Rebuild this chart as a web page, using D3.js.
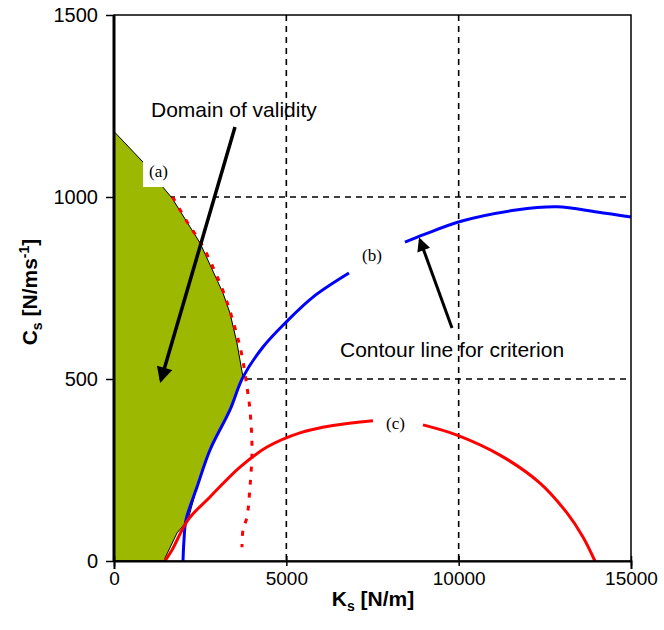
<!DOCTYPE html>
<html lang="en">
<head>
<meta charset="UTF-8">
<title>Domain of validity</title>
<script src="https://d3js.org/d3.v7.min.js"></script>
<style>
  body { margin: 0; background: #fff; }
  text { font-family: Arial, "Liberation Sans", sans-serif; }
  .serif { font-family: "Times New Roman", "Liberation Serif", serif; }
</style>
</head>
<body>
<svg width="664" height="630"></svg>
<script>
// tick values
const xTicks = [0, 5000, 10000, 15000];
const yTicks = [0, 500, 1000, 1500];

// domain of validity (green region outline), [Ks, Cs]
const domainPts = [
  [0, 0], [0, 1180], [841, 1096], [1421, 1027], [1683, 997], [2495, 874],
  [3162, 736], [3365, 681], [3568, 599], [3742, 505], [3365, 415],
  [2785, 305], [2408, 203], [2147, 113], [1828, 77], [1480, 8], [1480, 0]
];

// curve (a) - red dotted
const curveA = [
  [1700, 1000], [2100, 935], [2600, 860], [3150, 745], [3450, 660],
  [3700, 570], [3858, 478], [3945, 415], [4004, 305], [3945, 203],
  [3858, 121], [3742, 85], [3713, 38]
];

// curve (b) - blue, two pieces
const curveB1 = [
  [2002, 0], [2031, 58], [2089, 113], [2408, 203], [2785, 305],
  [3365, 415], [3742, 505], [4323, 588], [5000, 657], [5773, 725], [6818, 791]
];
const curveB2 = [
  [8442, 876], [9022, 898], [10096, 934], [11662, 964], [12852, 973],
  [14012, 959], [15000, 945]
];

// curve (c) - red, two pieces
const curveC1 = [
  [1480, 0], [1683, 30], [2147, 113], [2785, 176], [3655, 258],
  [4439, 313], [5396, 352], [6353, 372], [7514, 385]
];
const curveC2 = [
  [8964, 374], [9951, 346], [11198, 291], [12359, 214], [13142, 132],
  [13606, 66], [13954, 0]
];

const svg = d3.select("svg");
const m = { left: 114, right: 631, top: 15, bottom: 561 };

const x = d3.scaleLinear().domain([0, 15000]).range([m.left, m.right]);
const y = d3.scaleLinear().domain([0, 1500]).range([m.bottom, m.top]);

const poly = d3.line().x(d => x(d[0])).y(d => y(d[1]));
const smooth = d3.line().x(d => x(d[0])).y(d => y(d[1])).curve(d3.curveCatmullRom.alpha(0.5));

// grid
const grid = svg.append("g");
[5000, 10000].forEach(v => {
  grid.append("line")
    .attr("x1", x(v)).attr("x2", x(v)).attr("y1", m.top).attr("y2", m.bottom)
    .attr("stroke", "#000").attr("stroke-width", 1.6).attr("stroke-dasharray", "6,5");
});
[500, 1000].forEach(v => {
  grid.append("line")
    .attr("x1", m.left).attr("x2", m.right).attr("y1", y(v)).attr("y2", y(v))
    .attr("stroke", "#000").attr("stroke-width", 1.6).attr("stroke-dasharray", "6,5");
});

// green domain
svg.append("path")
  .attr("d", poly(domainPts) + "Z")
  .attr("fill", "#9cb800")
  .attr("stroke", "#000")
  .attr("stroke-width", 1);

// curves
svg.append("path").attr("d", smooth(curveA))
  .attr("fill", "none").attr("stroke", "#ff0000").attr("stroke-width", 3)
  .attr("stroke-dasharray", "5,8");
[curveB1, curveB2].forEach(c => {
  svg.append("path").attr("d", smooth(c))
    .attr("fill", "none").attr("stroke", "#0000ff").attr("stroke-width", 3);
});
[curveC1, curveC2].forEach(c => {
  svg.append("path").attr("d", smooth(c))
    .attr("fill", "none").attr("stroke", "#ff0000").attr("stroke-width", 3);
});

// frame
svg.append("rect")
  .attr("x", m.left).attr("y", m.top)
  .attr("width", m.right - m.left).attr("height", m.bottom - m.top)
  .attr("fill", "none").attr("stroke", "#000").attr("stroke-width", 1.5);
svg.append("line").attr("x1", m.left).attr("x2", m.left).attr("y1", m.top).attr("y2", m.bottom)
  .attr("stroke", "#000").attr("stroke-width", 3);

// axes
const xAxis = svg.append("g")
  .attr("transform", `translate(0,${m.bottom})`)
  .call(d3.axisBottom(x).tickValues(xTicks).tickSize(8).tickFormat(d3.format("d")));
xAxis.select(".domain").attr("stroke-width", 2);
xAxis.selectAll(".tick line").attr("stroke-width", 1.5).attr("y1", -5).attr("y2", 5);
xAxis.selectAll(".tick text").attr("font-size", 19).attr("font-family", "Arial, 'Liberation Sans', sans-serif")
  .attr("y", 11).attr("dy", "0.71em").attr("fill", "#000");

const yAxis = svg.append("g")
  .attr("transform", `translate(${m.left},0)`)
  .call(d3.axisLeft(y).tickValues(yTicks).tickSize(8).tickFormat(d3.format("d")));
yAxis.select(".domain").remove();
yAxis.selectAll(".tick line").attr("stroke-width", 1.5);
yAxis.selectAll(".tick text").attr("font-size", 20).attr("font-family", "Arial, 'Liberation Sans', sans-serif")
  .attr("x", -16).attr("fill", "#000");

// axis titles
const xt = svg.append("text").attr("x", 373).attr("y", 606)
  .attr("text-anchor", "middle").attr("font-size", 21).attr("font-weight", "bold");
xt.append("tspan").text("K");
xt.append("tspan").attr("font-size", 14).attr("dy", 5).text("s");
xt.append("tspan").attr("dy", -5).text(" [N/m]");

const yt = svg.append("text").attr("transform", "translate(37,292) rotate(-90)")
  .attr("text-anchor", "middle").attr("font-size", 21).attr("font-weight", "bold");
yt.append("tspan").text("C");
yt.append("tspan").attr("font-size", 14).attr("dy", 5).text("s");
yt.append("tspan").attr("dy", -5).text(" [N/ms");
yt.append("tspan").attr("font-size", 14).attr("dy", -8).text("-1");
yt.append("tspan").attr("dy", 8).text("]");

// arrow marker
svg.append("defs").append("marker")
  .attr("id", "head").attr("viewBox", "0 0 10 10")
  .attr("refX", 8).attr("refY", 5)
  .attr("markerWidth", 5).attr("markerHeight", 4.5)
  .attr("markerUnits", "strokeWidth")
  .attr("orient", "auto")
  .append("path").attr("d", "M0,0 L10,5 L0,10 Z").attr("fill", "#000");

svg.append("line")
  .attr("x1", 235).attr("y1", 127).attr("x2", 161).attr("y2", 380)
  .attr("stroke", "#000").attr("stroke-width", 3.5).attr("marker-end", "url(#head)");
svg.append("line")
  .attr("x1", 452).attr("y1", 328).attr("x2", 420).attr("y2", 240)
  .attr("stroke", "#000").attr("stroke-width", 3).attr("marker-end", "url(#head)");

// annotations
svg.append("text").attr("x", 151).attr("y", 117).attr("font-size", 21).text("Domain of validity");
svg.append("text").attr("x", 340).attr("y", 357).attr("font-size", 21).text("Contour line for criterion");

svg.append("rect").attr("x", 143).attr("y", 162).attr("width", 20).attr("height", 25).attr("fill", "#fff");
svg.append("text").attr("class", "serif").attr("x", 149).attr("y", 177).attr("font-size", 17).text("(a)");
svg.append("text").attr("class", "serif").attr("x", 362).attr("y", 261).attr("font-size", 17).text("(b)");
svg.append("text").attr("class", "serif").attr("x", 386).attr("y", 429).attr("font-size", 17).text("(c)");
</script>
</body>
</html>
